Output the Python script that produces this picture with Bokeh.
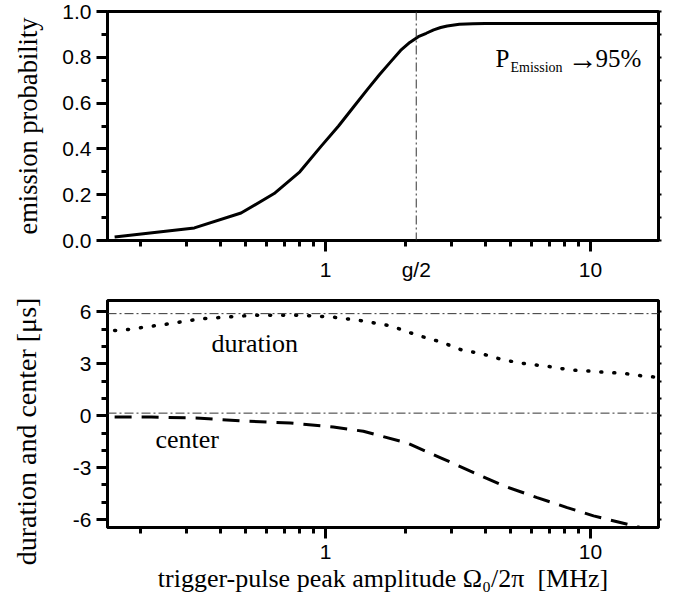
import numpy as np
from bokeh.plotting import figure
from bokeh.layouts import column
from bokeh.models import (FixedTicker, LinearAxis, LogAxis, Span, Label, Range1d,
                          CustomJSTickFormatter)
from bokeh.embed import file_html
from bokeh.resources import INLINE

# ---------------- data ----------------
# top panel: emission probability vs trigger-pulse amplitude (MHz)
omega_top = [0.16, 0.32, 0.48, 0.64, 0.80, 0.96, 1.12, 1.28, 1.44, 1.60, 1.76,
             1.92, 2.08, 2.24, 2.40, 2.56, 2.72, 2.88, 3.2, 3.6, 4.0, 6.0, 10.0, 18.06]
p_emission = [0.015, 0.055, 0.12, 0.205, 0.30, 0.41, 0.50, 0.585, 0.66, 0.725, 0.78,
              0.83, 0.865, 0.89, 0.905, 0.92, 0.93, 0.937, 0.944, 0.947, 0.948, 0.948, 0.948, 0.948]

# bottom panel: duration (dotted) and center (dashed) in microseconds
omega_dur = [0.16, 0.173, 0.253, 0.337, 0.535, 0.805, 1.07, 1.35, 1.76, 2.22, 2.72, 3.28,
             3.85, 4.71, 5.6, 7.06, 8.41, 9.71, 11.56, 13.36, 16.4, 17.5]
duration = [4.93, 4.95, 5.3, 5.6, 5.81, 5.81, 5.7, 5.5, 5.2, 4.65, 4.27, 3.79,
            3.6, 3.22, 3.02, 2.83, 2.64, 2.59, 2.5, 2.45, 2.26, 2.24]

omega_cen = [0.16, 0.22, 0.337, 0.478, 0.738, 1.07, 1.39, 2.03, 2.72, 3.52, 4.71,
             6.29, 8.17, 10.27, 12.96, 15.4, 16.5]
center = [-0.08, -0.08, -0.14, -0.3, -0.42, -0.65, -0.9, -1.57, -2.43, -3.2, -4.06,
          -4.73, -5.31, -5.79, -6.17, -6.46, -6.6]

half_g = 2.2          # g/2 position (MHz)
dur_ref = 5.9         # reference horizontal lines (bottom panel)
cen_ref = 0.15

x_major = [1, 10]
x_labelled = [1, half_g, 10]
x_minor = [0.2, 0.3, 0.4, 0.5, 0.6, 0.7, 0.8, 0.9, 2, 3, 4, 5, 6, 7, 8, 9]
top_y_major = [0.0, 0.2, 0.4, 0.6, 0.8, 1.0]
top_y_minor = [0.1, 0.3, 0.5, 0.7, 0.9]
bot_y_major = [-6, -3, 0, 3, 6]
bot_y_minor = [-5, -4, -2, -1, 1, 2, 4, 5]

SANS = "Liberation Sans"
SERIF = "Liberation Serif"
X_RANGE = (0.1504, 18.06)

EMPTY = CustomJSTickFormatter(code="return '';")
XFMT = CustomJSTickFormatter(code="""
if (Math.abs(tick - 2.2) < 0.01) { return 'g/2'; }
return String(Math.round(tick));
""")


def style_axes(p, ymaj, yminor):
    p.outline_line_color = "black"
    p.outline_line_width = 3
    p.outline_line_alpha = 1.0
    p.grid.visible = False
    for ax in p.axis:
        ax.axis_line_width = 3
        ax.major_tick_line_width = 3
        ax.minor_tick_line_width = 3
        ax.major_tick_in = 0
        ax.major_tick_out = 11
        ax.minor_tick_in = 0
        ax.minor_tick_out = 6
        ax.major_label_text_font = SANS
        ax.major_label_text_font_size = "21px"
        ax.major_label_text_color = "black"
        ax.axis_label_text_font = SERIF
        ax.axis_label_text_font_style = "normal"
        ax.axis_label_text_color = "black"
    p.xaxis.ticker = FixedTicker(ticks=x_major, minor_ticks=x_minor)
    p.xaxis.major_label_standoff = 6
    p.yaxis.ticker = FixedTicker(ticks=ymaj, minor_ticks=yminor)
    p.yaxis.major_label_standoff = 5
    # right-hand mirrored small ticks
    right = LinearAxis(ticker=FixedTicker(ticks=sorted(ymaj + yminor), minor_ticks=[]),
                       formatter=EMPTY,
                       major_tick_in=0, major_tick_out=3, major_tick_line_width=2,
                       minor_tick_out=0, minor_tick_in=0,
                       axis_line_width=3, major_label_text_font_size="1px",
                       major_label_standoff=0)
    p.add_layout(right, "right")


# ---------------- top panel ----------------
p1 = figure(width=673, height=254, x_axis_type="log",
            x_range=Range1d(*X_RANGE), y_range=Range1d(0.0, 1.0),
            output_backend="svg", toolbar_location=None,
            min_border_left=107, min_border_right=15, min_border_top=11, min_border_bottom=14)
p1.line(omega_top, p_emission, line_color="black", line_width=3)
style_axes(p1, top_y_major, top_y_minor)
p1.xaxis[0].formatter = EMPTY
p1.xaxis[0].major_label_text_font_size = "1px"
p1.xaxis[0].major_label_standoff = 0
p1.yaxis[0].formatter = CustomJSTickFormatter(code="return tick.toFixed(1);")
p1.yaxis[0].axis_label = "emission probability"
p1.yaxis[0].axis_label_text_font_size = "26.5px"
p1.yaxis[0].axis_label_standoff = 16
p1.add_layout(Span(location=half_g, dimension="height", line_color="#333333",
                   line_width=1, line_dash="9 3 2 3"))
p1.add_layout(Label(x=4.38, y=0.795, text="P", text_font=SERIF, text_font_size="25px",
                    text_baseline="alphabetic", text_color="black"))
p1.add_layout(Label(x=4.99, y=0.755, text="Emission", text_font=SERIF,
                    text_font_size="14px", text_baseline="alphabetic", text_color="black"))
p1.add_layout(Label(x=8.2, y=0.795, text="\u2192", text_font=SERIF, text_font_size="30px",
                    text_baseline="alphabetic", text_color="black"))
p1.add_layout(Label(x=10.45, y=0.795, text="95%", text_font=SERIF, text_font_size="25px",
                    text_baseline="alphabetic", text_color="black"))

# ---------------- bottom panel ----------------
p2 = figure(width=673, height=356, x_axis_type="log",
            x_range=Range1d(*X_RANGE), y_range=Range1d(-6.46, 6.66),
            output_backend="svg", toolbar_location=None,
            min_border_left=107, min_border_right=15, min_border_top=44, min_border_bottom=83)
p2.add_layout(Span(location=dur_ref, dimension="width", line_color="#333333",
                   line_width=1, line_dash="9 3 2 3"))
p2.add_layout(Span(location=cen_ref, dimension="width", line_color="#333333",
                   line_width=1, line_dash="9 3 2 3"))
p2.line(omega_dur, duration, line_color="black", line_width=3.5, line_dash="1 12",
        line_cap="round")
p2.line(omega_cen, center, line_color="black", line_width=3, line_dash="17 10")
style_axes(p2, bot_y_major, bot_y_minor)
p2.xaxis[0].formatter = XFMT
p2.yaxis[0].formatter = CustomJSTickFormatter(code="return tick.toFixed(0);")
p2.yaxis[0].axis_label = "duration and center [\u03bcs]" + "\u00a0" * 5
p2.yaxis[0].axis_label_text_font_size = "28px"
p2.yaxis[0].axis_label_standoff = 28
p2.xaxis[0].axis_label = "trigger-pulse peak amplitude \u03a9\u2080/2\u03c0 \u00a0[MHz]"
p2.xaxis[0].axis_label_text_font_size = "26px"
p2.xaxis[0].axis_label_standoff = 2

# tick labels of the upper panel's x axis ("1", "g/2", "10") sit between the panels
top_labels = LogAxis(ticker=FixedTicker(ticks=x_labelled, minor_ticks=[]), formatter=XFMT,
                     major_tick_in=0, major_tick_out=0, minor_tick_in=0, minor_tick_out=0,
                     axis_line_color=None, major_label_standoff=20,
                     major_label_text_font=SANS, major_label_text_font_size="21px",
                     major_label_text_color="black")
p2.add_layout(top_labels, "above")

p2.add_layout(Label(x=0.371, y=4.17, text="duration", text_font=SERIF,
                    text_font_size="26px", text_baseline="alphabetic", text_color="black"))
p2.add_layout(Label(x=0.228, y=-1.38, text="center", text_font=SERIF,
                    text_font_size="26px", text_baseline="alphabetic", text_color="black"))

layout = column(p1, p2)
open("out.html", "w").write(file_html(layout, INLINE))
